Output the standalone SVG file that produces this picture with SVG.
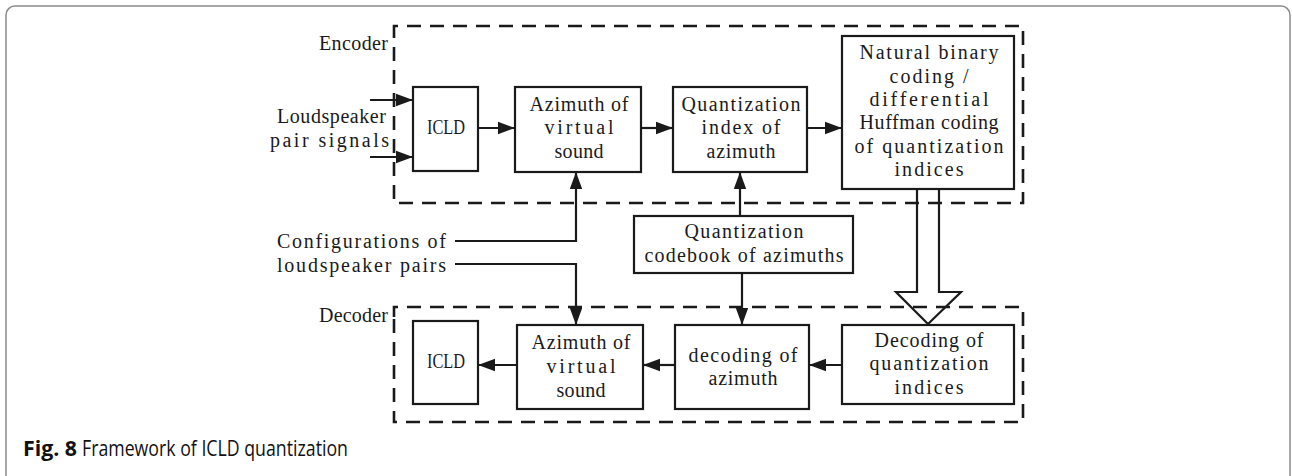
<svg xmlns="http://www.w3.org/2000/svg" width="1292" height="476" viewBox="0 0 1292 476">
<style>
.t{font-family:"Liberation Serif","Times New Roman",serif;font-size:20px;fill:#1a1a1a;}
.c{text-anchor:middle;}
.e{text-anchor:end;}
.box{fill:#fff;stroke:#1a1a1a;stroke-width:2.2;}
.dash{fill:none;stroke:#1a1a1a;stroke-width:2.6;stroke-dasharray:14 9;}
.ln{fill:none;stroke:#1a1a1a;stroke-width:2.2;}
.cap{font-family:"Open Sans","Noto Sans","Liberation Sans",sans-serif;font-size:21px;fill:#111;}
</style>
<defs>
<marker id="ah" markerUnits="userSpaceOnUse" markerWidth="18" markerHeight="14" refX="17" refY="7" orient="auto">
<path d="M0,0.8 L17,7 L0,13.2 Z" fill="#1a1a1a"/>
</marker>
</defs>
<rect x="6" y="6" width="1284" height="482" rx="9" fill="#fff" stroke="#8a8a8a" stroke-width="1.5"/>

<g id="encoder-region">
<path class="dash" d="M394,36 V26 H1023 V203 H394 Z"/>
<text class="t e" x="388" y="50" textLength="69" lengthAdjust="spacing">Encoder</text>
</g>
<g id="decoder-region">
<path class="dash" d="M394,317 V307 H1023 V422 H394 Z"/>
<text class="t e" x="388" y="322" textLength="69" lengthAdjust="spacing">Decoder</text>
</g>

<g id="input-label">
<text class="t e" x="386" y="123" textLength="109" lengthAdjust="spacing">Loudspeaker</text>
<text class="t e" x="389" y="147" textLength="119" lengthAdjust="spacing">pair signals</text>
</g>
<g id="config-label">
<text class="t" x="277" y="248" textLength="169" lengthAdjust="spacing">Configurations of</text>
<text class="t" x="277" y="272" textLength="169" lengthAdjust="spacing">loudspeaker pairs</text>
</g>

<g id="enc-icld">
<rect class="box" x="413" y="87" width="65" height="84"/>
<text class="t c" x="446" y="134" textLength="38" lengthAdjust="spacingAndGlyphs">ICLD</text>
</g>
<g id="enc-azimuth">
<rect class="box" x="515" y="87" width="126" height="85"/>
<text class="t c" x="579" y="111" textLength="99" lengthAdjust="spacing">Azimuth of</text>
<text class="t c" x="579" y="134" textLength="69" lengthAdjust="spacing">virtual</text>
<text class="t c" x="579" y="158" textLength="49" lengthAdjust="spacing">sound</text>
</g>
<g id="enc-quant-index">
<rect class="box" x="673" y="87" width="134" height="85"/>
<text class="t c" x="741" y="111" textLength="119" lengthAdjust="spacing">Quantization</text>
<text class="t c" x="741" y="134" textLength="79" lengthAdjust="spacing">index of</text>
<text class="t c" x="741" y="158" textLength="69" lengthAdjust="spacing">azimuth</text>
</g>
<g id="enc-coding">
<rect class="box" x="842" y="36" width="172" height="153"/>
<text class="t c" x="929" y="59" textLength="139" lengthAdjust="spacing">Natural binary</text>
<text class="t c" x="929" y="83" textLength="79" lengthAdjust="spacing">coding /</text>
<text class="t c" x="929" y="106" textLength="119" lengthAdjust="spacing">differential</text>
<text class="t c" x="929" y="129" textLength="139" lengthAdjust="spacing">Huffman coding</text>
<text class="t c" x="929" y="153" textLength="149" lengthAdjust="spacing">of quantization</text>
<text class="t c" x="929" y="176" textLength="69" lengthAdjust="spacing">indices</text>
</g>
<g id="codebook">
<rect class="box" x="634" y="216" width="219" height="57"/>
<text class="t c" x="744" y="238" textLength="119" lengthAdjust="spacing">Quantization</text>
<text class="t c" x="744" y="262" textLength="199" lengthAdjust="spacing">codebook of azimuths</text>
</g>

<g id="dec-icld">
<rect class="box" x="413" y="321" width="65" height="83"/>
<text class="t c" x="446" y="368" textLength="38" lengthAdjust="spacingAndGlyphs">ICLD</text>
</g>
<g id="dec-azimuth">
<rect class="box" x="517" y="325" width="126" height="84"/>
<text class="t c" x="581" y="349" textLength="99" lengthAdjust="spacing">Azimuth of</text>
<text class="t c" x="581" y="373" textLength="69" lengthAdjust="spacing">virtual</text>
<text class="t c" x="581" y="397" textLength="49" lengthAdjust="spacing">sound</text>
</g>
<g id="dec-decoding-azimuth">
<rect class="box" x="675" y="325" width="134" height="84"/>
<text class="t c" x="743" y="362" textLength="109" lengthAdjust="spacing">decoding of</text>
<text class="t c" x="743" y="385" textLength="69" lengthAdjust="spacing">azimuth</text>
</g>
<g id="dec-decoding-indices">
<rect class="box" x="842" y="325" width="172" height="79"/>
<text class="t c" x="929" y="347" textLength="109" lengthAdjust="spacing">Decoding of</text>
<text class="t c" x="929" y="370" textLength="119" lengthAdjust="spacing">quantization</text>
<text class="t c" x="929" y="394" textLength="69" lengthAdjust="spacing">indices</text>
</g>

<g id="connectors">
<path class="ln" d="M370,100 H413" marker-end="url(#ah)"/>
<path class="ln" d="M370,157 H413" marker-end="url(#ah)"/>
<path class="ln" d="M478,128 H515" marker-end="url(#ah)"/>
<path class="ln" d="M641,128 H673" marker-end="url(#ah)"/>
<path class="ln" d="M807,128 H842" marker-end="url(#ah)"/>
<path class="ln" d="M455,241 H576 V172" marker-end="url(#ah)"/>
<path class="ln" d="M455,264 H576 V325" marker-end="url(#ah)"/>
<path class="ln" d="M740,216 V172" marker-end="url(#ah)"/>
<path class="ln" d="M742,273 V325" marker-end="url(#ah)"/>
<path class="ln" d="M842,365 H809" marker-end="url(#ah)"/>
<path class="ln" d="M675,365 H643" marker-end="url(#ah)"/>
<path class="ln" d="M517,365 H478" marker-end="url(#ah)"/>
<path class="ln" d="M917,189 V292 H896 L928,324 L961,292 H939 V189"/>
</g>

<g id="caption">
<text class="cap" x="23" y="456" font-weight="bold" textLength="54" lengthAdjust="spacingAndGlyphs">Fig. 8</text>
<text class="cap" x="82" y="456" textLength="266" lengthAdjust="spacingAndGlyphs">Framework of ICLD quantization</text>
</g>
</svg>
